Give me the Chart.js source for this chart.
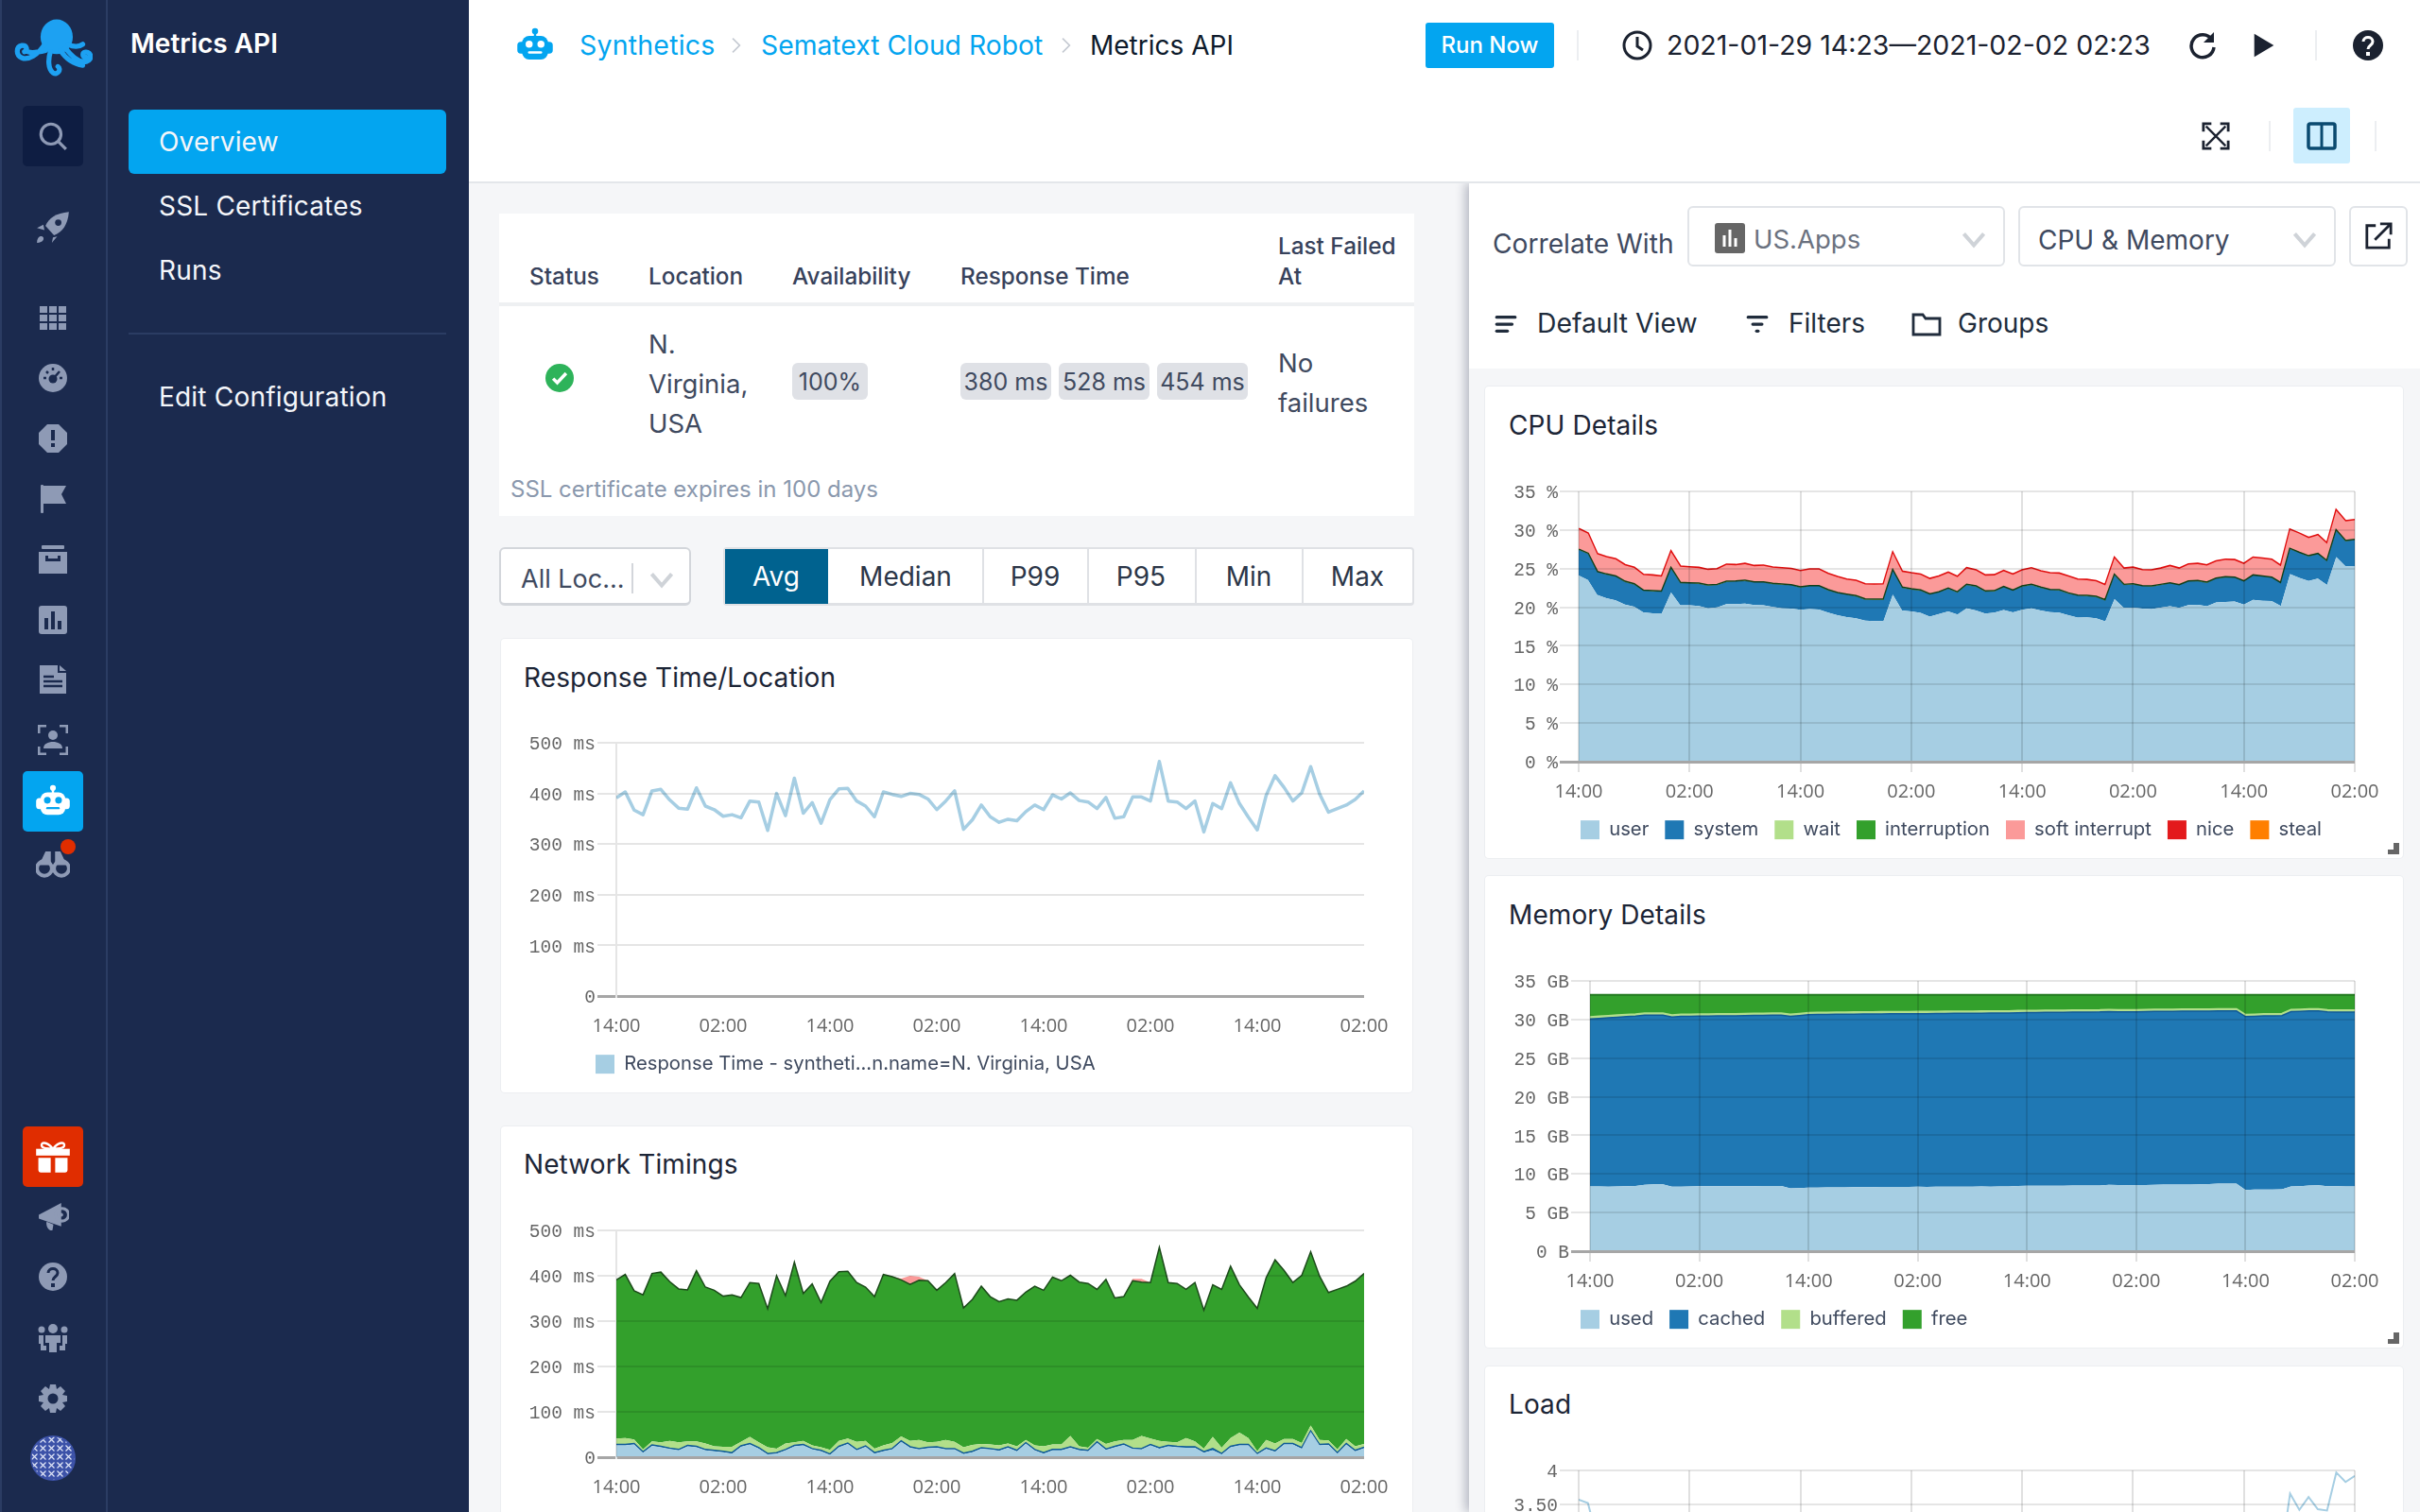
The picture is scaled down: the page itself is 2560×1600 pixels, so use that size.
<!DOCTYPE html>
<html>
<head>
<meta charset="utf-8">
<title>Metrics API</title>
<script src="https://cdn.jsdelivr.net/npm/chart.js@4/dist/chart.umd.min.js"></script>
<style>
  html, body { margin: 0; width: 2560px; height: 1600px; overflow: hidden; background: #f5f6f8; font-family: Inter, sans-serif; }
  #ui { position: absolute; left: 0; top: 0; width: 2560px; height: 1600px; overflow: hidden; }
  #ui div, #ui svg, #ui canvas { position: absolute; }
  .t { white-space: nowrap; transform: translateY(-50%); line-height: 1; }
</style>
</head>
<body>
<div id="ui"></div>
<script>
// ---- Data ----
const xTickLabels = ["14:00", "02:00", "14:00", "02:00", "14:00", "02:00", "14:00", "02:00"];
const responseTicks = ["0", "100 ms", "200 ms", "300 ms", "400 ms", "500 ms"];
const cpuTicks = ["0 %", "5 %", "10 %", "15 %", "20 %", "25 %", "30 %", "35 %"];
const memoryTicks = ["0 B", "5 GB", "10 GB", "15 GB", "20 GB", "25 GB", "30 GB", "35 GB"];
const loadTicks = ["0", "0.50", "1", "1.50", "2", "2.50", "3", "3.50", "4"];

const responseTime = [
  391,403,367,358,405,408,387,371,369,411,375,368,355,358,352,385,383,327,400,356,
  430,361,382,341,388,409,410,385,375,354,403,398,394,400,398,389,368,385,405,329,
  348,377,354,343,349,346,364,377,368,397,389,401,386,383,370,392,351,354,393,393,
  385,463,385,383,370,385,324,380,370,421,380,353,328,396,435,412,385,401,453,399,
  363,370,377,388,405
];

const netDns = [
  26,26,28,10,25,22,18,15,24,22,15,13,11,8,23,28,19,6,8,15,
  24,26,17,13,5,22,29,15,23,8,13,17,34,21,17,20,21,17,17,7,
  11,19,17,14,21,13,30,15,8,15,15,21,15,13,32,16,22,27,18,17,
  26,19,24,22,21,21,10,15,6,22,26,26,6,18,12,28,28,19,56,26,
  27,8,28,13,20
];
const netConnect = [
  2,2,2,2,2,2,2,2,2,2,2,2,2,2,2,2,2,2,2,2,
  2,2,2,2,2,2,2,2,2,2,2,2,2,2,2,2,2,2,2,2,
  2,2,2,2,2,2,2,2,2,2,2,2,2,2,2,2,2,2,2,2,
  2,2,2,2,2,2,2,4,2,2,2,2,2,2,2,2,2,2,2,2,
  2,2,2,2,2
];
const netTls = [
  13,14,9,5,8,9,16,16,9,11,13,9,10,13,9,15,12,14,9,13,
  7,8,7,7,9,12,10,17,11,9,11,12,10,13,19,11,11,19,15,13,
  14,8,9,10,7,9,6,9,14,11,11,24,7,6,6,11,11,9,18,28,
  13,15,8,9,19,12,7,26,13,18,26,14,5,18,16,10,10,10,12,10,
  8,7,10,9,7
];
const netWait = [
  350,361,328,341,370,375,351,338,334,376,345,344,332,335,318,340,350,305,381,326,
  397,325,356,319,372,373,369,351,339,335,377,367,345,345,352,356,334,347,371,307,
  321,348,326,317,319,322,326,351,344,369,361,354,362,362,330,363,316,316,351,339,
  344,427,351,350,328,350,305,335,349,379,326,311,315,358,405,372,345,370,383,361,
  326,353,337,364,376
];
const netDownload = [
  0,0,0,0,0,0,0,0,0,0,0,0,0,0,0,0,0,0,0,0,
  0,0,0,0,0,0,0,0,0,0,0,0,3,19,8,0,0,0,0,0,
  0,0,0,0,0,0,0,0,0,0,0,0,0,0,0,0,0,0,4,7,
  0,0,0,0,0,0,0,0,0,0,0,0,0,0,0,0,0,0,0,0,
  0,0,0,0,0
];

const cpuUser = [
  24.11,23.54,21.59,21.18,20.89,20.36,20.07,19.34,19.22,19.22,21.91,20.24,20.24,20.16,19.87,19.99,20.40,20.40,20.48,20.28,
  20.24,20.04,19.87,19.83,19.67,19.75,19.71,19.30,18.98,18.73,18.57,18.28,18.20,18.24,21.62,19.59,19.46,19.26,18.80,19.13,
  19.46,19.06,19.87,19.59,19.18,19.30,19.63,19.34,19.67,19.87,19.59,19.38,19.30,18.98,18.65,18.69,18.57,18.16,21.06,19.91,
  19.95,19.83,19.75,19.95,20.12,19.91,20.28,20.32,20.12,20.61,20.69,20.73,20.36,20.97,20.85,20.81,20.16,24.28,23.79,23.42,
  23.71,22.89,26.48,25.30,25.34
];
const cpuSystem = [
  3.30,3.35,2.94,3.02,3.06,2.90,2.86,2.77,2.82,2.77,3.06,2.86,2.82,2.86,2.90,2.86,2.86,2.90,2.90,2.90,
  2.94,2.94,3.02,2.98,2.86,2.94,2.98,2.86,2.82,2.86,2.82,2.69,2.73,2.69,3.06,2.90,2.82,2.86,2.82,2.77,
  2.90,2.82,2.98,3.06,2.82,2.73,2.94,2.77,2.98,2.98,2.90,2.82,2.86,2.77,2.82,2.73,2.73,2.69,3.06,2.94,
  2.98,2.86,2.90,2.90,2.94,2.90,3.02,3.02,3.02,3.06,3.14,3.06,2.94,3.10,3.10,2.98,2.90,3.22,3.22,3.14,
  3.14,3.02,3.39,3.22,3.35
];
const cpuWait = [
  0.02,0.02,0.02,0.02,0.02,0.02,0.02,0.02,0.02,0.02,0.02,0.02,0.02,0.02,0.02,0.02,0.02,0.02,0.02,0.02,
  0.02,0.02,0.02,0.02,0.02,0.02,0.02,0.02,0.02,0.02,0.02,0.02,0.02,0.02,0.02,0.02,0.02,0.02,0.02,0.02,
  0.02,0.02,0.02,0.02,0.02,0.02,0.02,0.02,0.02,0.02,0.02,0.02,0.02,0.02,0.02,0.02,0.02,0.02,0.02,0.02,
  0.02,0.02,0.02,0.02,0.02,0.02,0.02,0.02,0.02,0.02,0.02,0.02,0.02,0.02,0.02,0.02,0.02,0.02,0.02,0.02,
  0.02,0.02,0.02,0.02,0.02
];
const cpuInterruption = [
  0.03,0.03,0.03,0.03,0.03,0.03,0.03,0.03,0.03,0.03,0.03,0.03,0.03,0.03,0.03,0.03,0.03,0.03,0.03,0.03,
  0.03,0.03,0.03,0.03,0.03,0.03,0.03,0.03,0.03,0.03,0.03,0.03,0.03,0.03,0.03,0.03,0.03,0.03,0.03,0.03,
  0.03,0.03,0.03,0.03,0.03,0.03,0.03,0.03,0.03,0.03,0.03,0.03,0.03,0.03,0.03,0.03,0.03,0.03,0.03,0.03,
  0.03,0.03,0.03,0.03,0.03,0.03,0.03,0.03,0.03,0.03,0.03,0.03,0.03,0.03,0.03,0.03,0.03,0.03,0.03,0.03,
  0.03,0.03,0.03,0.03,0.03
];
const cpuSoftInterrupt = [
  2.65,2.57,2.28,2.20,2.20,2.12,2.12,2.00,2.00,1.92,2.12,2.08,2.04,2.00,2.00,2.00,2.16,2.08,2.16,2.08,
  2.12,2.08,2.08,2.08,2.08,2.12,2.12,2.08,2.04,1.92,1.96,1.92,1.92,1.96,2.24,2.04,2.04,2.04,1.96,2.00,
  2.04,1.96,2.12,2.04,2.04,2.04,2.04,2.04,2.04,2.12,2.08,2.12,2.12,2.16,2.04,2.04,2.00,1.92,2.16,2.08,
  2.12,2.04,2.04,2.08,2.20,2.12,2.16,2.20,2.20,2.20,2.24,2.24,2.24,2.28,2.28,2.28,2.20,2.45,2.45,2.33,
  2.41,2.24,2.57,2.53,2.53
];
const cpuNice = [
  0.04,0.04,0.04,0.04,0.04,0.04,0.04,0.04,0.04,0.04,0.04,0.04,0.04,0.04,0.04,0.04,0.04,0.04,0.04,0.04,
  0.04,0.04,0.04,0.04,0.04,0.04,0.04,0.04,0.04,0.04,0.04,0.04,0.04,0.04,0.04,0.04,0.04,0.04,0.04,0.04,
  0.04,0.04,0.04,0.04,0.04,0.04,0.04,0.04,0.04,0.04,0.04,0.04,0.04,0.04,0.04,0.04,0.04,0.04,0.04,0.04,
  0.04,0.04,0.04,0.04,0.04,0.04,0.04,0.04,0.04,0.04,0.04,0.04,0.04,0.04,0.04,0.04,0.04,0.04,0.04,0.04,
  0.04,0.04,0.04,0.04,0.04
];
const cpuSteal = [
  0,0,0,0,0,0,0,0,0,0,0,0,0,0,0,0,0,0,0,0,
  0,0,0,0,0,0,0,0,0,0,0,0,0,0,0,0,0,0,0,0,
  0,0,0,0,0,0,0,0,0,0,0,0,0,0,0,0,0,0,0,0,
  0,0,0,0,0,0,0,0,0,0,0,0,0,0,0,0,0,0,0,0,
  0,0,0,0,0
];

const memUsed = [
  8.38,8.37,8.36,8.39,8.42,8.45,8.60,8.66,8.66,8.34,8.36,8.39,8.40,8.41,8.40,8.42,8.41,8.40,8.42,8.43,
  8.43,8.44,8.15,8.17,8.22,8.24,8.25,8.27,8.27,8.28,8.29,8.30,8.31,8.31,8.33,8.33,8.34,8.33,8.35,8.34,
  8.36,8.35,8.36,8.37,8.36,8.38,8.39,8.44,8.46,8.47,8.48,8.48,8.47,8.49,8.50,8.50,8.52,8.60,8.56,8.55,
  8.57,8.58,8.60,8.62,8.63,8.62,8.64,8.66,8.70,8.74,8.76,8.76,7.92,7.98,8.00,8.00,8.01,8.37,8.40,8.52,
  8.53,8.42,8.40,8.39,8.39
];
const memCached = [
  21.70,21.78,21.86,21.91,21.96,22.00,21.95,21.89,21.89,21.98,22.04,22.03,22.04,22.04,22.06,22.05,22.07,22.10,22.10,22.11,
  22.12,22.11,22.25,22.33,22.40,22.41,22.41,22.41,22.42,22.42,22.42,22.42,22.42,22.43,22.41,22.42,22.42,22.43,22.43,22.45,
  22.44,22.45,22.45,22.45,22.47,22.45,22.45,22.44,22.44,22.43,22.44,22.45,22.47,22.46,22.46,22.47,22.46,22.42,22.44,22.45,
  22.43,22.45,22.44,22.43,22.43,22.45,22.44,22.42,22.38,22.36,22.36,22.34,22.45,22.44,22.46,22.48,22.49,22.65,22.65,22.58,
  22.57,22.58,22.57,22.58,22.58
];
const memBuffered = [
  0.25,0.25,0.25,0.25,0.25,0.25,0.25,0.25,0.25,0.25,0.25,0.25,0.25,0.25,0.25,0.25,0.25,0.25,0.25,0.25,
  0.25,0.25,0.25,0.25,0.25,0.25,0.25,0.25,0.25,0.25,0.25,0.25,0.25,0.25,0.25,0.25,0.25,0.25,0.25,0.25,
  0.25,0.25,0.25,0.25,0.25,0.25,0.25,0.25,0.25,0.25,0.25,0.25,0.25,0.25,0.25,0.25,0.25,0.25,0.25,0.25,
  0.25,0.25,0.25,0.25,0.25,0.25,0.25,0.25,0.25,0.25,0.25,0.25,0.25,0.25,0.25,0.25,0.25,0.25,0.25,0.25,
  0.25,0.25,0.25,0.25,0.25
];
const memFree = [
  2.87,2.80,2.73,2.65,2.57,2.50,2.40,2.40,2.40,2.63,2.55,2.53,2.51,2.50,2.49,2.48,2.47,2.45,2.43,2.41,
  2.40,2.40,2.55,2.45,2.33,2.30,2.29,2.27,2.26,2.25,2.24,2.23,2.22,2.21,2.21,2.20,2.19,2.19,2.17,2.16,
  2.15,2.15,2.14,2.13,2.12,2.12,2.11,2.07,2.05,2.05,2.03,2.02,2.01,2.00,1.99,1.98,1.97,1.93,1.95,1.95,
  1.95,1.92,1.91,1.90,1.89,1.88,1.87,1.87,1.87,1.85,1.83,1.85,2.58,2.53,2.49,2.47,2.45,1.93,1.90,1.85,
  1.85,1.95,1.98,1.98,1.98
];

const loadOne = [
  3.57,3.52,3.00,2.88,2.82,2.74,2.70,2.60,2.58,2.58,2.95,2.72,2.72,2.70,2.68,2.70,2.75,2.75,2.76,2.74,
  2.73,2.70,2.68,2.68,2.65,2.66,2.66,2.60,2.56,2.53,2.50,2.46,2.45,2.46,2.90,2.64,2.62,2.60,2.54,2.58,
  2.62,2.57,2.68,2.64,2.58,2.60,2.65,2.61,2.65,2.68,2.64,2.61,2.60,2.56,2.52,2.52,2.50,2.45,2.84,2.68,
  2.69,2.67,2.66,2.69,2.71,2.68,2.73,2.74,2.71,2.78,2.79,2.80,2.74,2.83,2.81,2.80,2.72,3.66,3.42,3.61,
  3.43,3.41,3.97,3.83,3.92
];

const ui = document.getElementById("ui");

// ---- Page furniture helpers ----
const box = (l, t, r, b, css = "") => {
  const d = document.createElement("div");
  d.style.cssText = `left:${l}px;top:${t}px;width:${r - l}px;height:${b - t}px;${css}`;
  ui.appendChild(d);
  return d;
};

const text = (x, y, str, css = "") => {
  const d = document.createElement("div");
  d.className = "t";
  d.textContent = str;
  d.style.cssText = `left:${x}px;top:${y}px;${css}`;
  ui.appendChild(d);
  return d;
};

const centered = (cx, y, str, css = "") => {
  const d = text(cx, y, str, css);
  d.style.transform = "translate(-50%,-50%)";
  return d;
};

const icon = (cx, cy, size, color, inner) => {
  const w = document.createElement("div");
  w.style.cssText = `left:${cx - size / 2}px;top:${cy - size / 2}px;width:${size}px;height:${size}px;color:${color}`;
  w.innerHTML = `<svg viewBox="0 0 32 32" width="${size}" height="${size}" fill="currentColor">${inner}</svg>`;
  ui.appendChild(w);
};

const robot = (eye) => `<circle cx="16" cy="4" r="2.6"/><rect x="15" y="5" width="2" height="4"/><rect x="5" y="8" width="22" height="20" rx="6"/><rect x="1" y="13" width="30" height="10" rx="3"/><circle cx="11" cy="15" r="3" fill="${eye}"/><circle cx="21" cy="15" r="3" fill="${eye}"/><rect x="10" y="21" width="12" height="2" rx="1" fill="${eye}"/>`;
const chevron = `<path d="M3 9l13 15L29 9" fill="none" stroke="currentColor" stroke-width="5"/>`;

const NAVY = "#1b2a4e";
const RAIL = "#8e9ab5";
const BLUE = "#03a5f0";

// ---- Sidebars ----
box(0, 0, 496, 1600, `background:${NAVY}`);
box(0, 0, 2, 1600, "background:#2b3c63");
box(112, 0, 114, 1600, "background:#2b3c63");

icon(56, 56, 84, "#1da1f2", `<ellipse cx="17.500" cy="9.500" rx="6.500" ry="7"/><path d="M13 12C10 17 6 19 3.500 18 1 17 1 13.500 3.500 13 5.500 12.800 6 15 4.500 15.500M22 12.500c2 1 4 1.500 6 0M13 15c-4 1-7 1-8 0M21 14c3 4 6 6 8.500 5.500 2.500-.7 2-4-.3-3.800-1.500.2-1.500 2 0 2M15 15.500c-1 3-1 7 1 8.500 2 1.200 3.500-1.500 2-2.500M19 15c2 3 5 5.500 9 6" fill="none" stroke="currentColor" stroke-width="2" stroke-linecap="round"/>`);
box(24, 112, 88, 176, "background:#0e1d42;border-radius:5px");
icon(56, 144, 34, RAIL, `<circle cx="14" cy="14" r="10" fill="none" stroke="currentColor" stroke-width="3"/><path d="M21 21l8 8" stroke="currentColor" stroke-width="3"/>`);
icon(56, 240, 36, RAIL, `<path d="M31 2C19 3 12 8 9 15l8 9c8-3 13-10 14-22z"/><path d="M7 14l-6 3 7 2zM16 26l-1 5 5-6zM1 31c0-4 2-7 5-6l1 1c1 3-2 5-6 5z"/><circle cx="21" cy="12" r="3" fill="${NAVY}"/>`);
icon(56, 336, 32, RAIL, `<path d="M2 4h8v7H2zM12 4h8v7h-8zM22 4h8v7h-8zM2 13h8v7H2zM12 13h8v7h-8zM22 13h8v7h-8zM2 22h8v7H2zM12 22h8v7h-8zM22 22h8v7h-8z"/>`);
icon(56, 400, 32, RAIL, `<circle cx="16" cy="16" r="15"/><circle cx="16" cy="17" r="4.5" fill="${NAVY}"/><path d="M17 16l6-7M6 16h3M23 16h3M16 5v3M9 9l2 2" stroke="${NAVY}" stroke-width="2.5"/>`);
icon(56, 464, 32, RAIL, `<path d="M10 1h12l9 9v12l-9 9H10l-9-9V10z"/><rect x="14" y="7" width="4" height="11" fill="${NAVY}"/><rect x="14" y="21" width="4" height="4" fill="${NAVY}"/>`);
icon(56, 528, 32, RAIL, `<rect x="3" y="1" width="3" height="30" rx="1"/><path d="M6 2h24l-5 9 5 10H6z"/>`);
icon(56, 592, 32, RAIL, `<rect x="4" y="1" width="24" height="4" rx="1"/><path d="M1 8h30v23H1z"/><rect x="8" y="12" width="16" height="6" fill="${NAVY}"/><rect x="11" y="10" width="10" height="5" fill="${RAIL}"/>`);
icon(56, 656, 32, RAIL, `<rect x="1" y="1" width="30" height="30" rx="3"/><rect x="7" y="14" width="4" height="12" fill="${NAVY}"/><rect x="14" y="7" width="4" height="19" fill="${NAVY}"/><rect x="21" y="17" width="4" height="9" fill="${NAVY}"/>`);
icon(56, 719, 32, RAIL, `<path d="M2 1h19v8h9v22H2z"/><path d="M23 1l7 6h-7z"/><path d="M6 13h11M6 18h20M6 23h20" stroke="${NAVY}" stroke-width="2.4"/>`);
icon(56, 783, 32, RAIL, `<path d="M1 9V1h8M23 1h8v8M1 23v8h8M23 31h8v-8" fill="none" stroke="currentColor" stroke-width="3"/><circle cx="16" cy="11" r="5"/><path d="M6 25c0-5 5-7 10-7s10 2 10 7z"/>`);
box(24, 816, 88, 880, `background:${BLUE};border-radius:5px`);
icon(56, 848, 38, "#fff", robot(BLUE));
icon(56, 911, 36, RAIL, `<circle cx="8" cy="23" r="7" fill="none" stroke="currentColor" stroke-width="3.5"/><circle cx="24" cy="23" r="7" fill="none" stroke="currentColor" stroke-width="3.5"/><path d="M3 20L9 7h5v13zM29 20L23 7h-5v13z"/>`);
box(64, 888, 80, 904, "background:#e02d00;border-radius:50%");
box(24, 1192, 88, 1256, "background:#e02d00;border-radius:5px");
icon(56, 1224, 38, "#fff", `<rect x="1" y="9" width="30" height="6"/><path d="M3 17h11v13H5a2 2 0 0 1-2-2zM18 17h11v11a2 2 0 0 1-2 2h-9z"/><path d="M16 9C10 2 5 3 6 6.500 7 9 13 9 16 9c3 0 9 0 10-2.500C27 3 22 2 16 9z" fill="none" stroke="currentColor" stroke-width="2"/>`);
icon(56, 1287, 33, RAIL, `<path d="M1 14L24 2v24L1 18z"/><circle cx="25" cy="14" r="6.500" fill="none" stroke="currentColor" stroke-width="3"/><circle cx="24" cy="14" r="2"/><path d="M9 21l7 3-1 6c-4 1-7-5-6-9z"/>`);
icon(56, 1351, 32, RAIL, `<circle cx="16" cy="16" r="15"/><path d="M11 12c0-6 10-6 10 0 0 4-5 4-5 8" fill="none" stroke="${NAVY}" stroke-width="3"/><rect x="14" y="23" width="4" height="4" fill="${NAVY}"/>`);
icon(56, 1416, 32, RAIL, `<circle cx="16" cy="6" r="5"/><circle cx="4" cy="7" r="3.500"/><circle cx="28" cy="7" r="3.500"/><path d="M8 13h16v8h-4v10h-8V21H8zM1 13h5v11h3v5H3v-7H1zM26 13h5v9h-2v7h-6v-5h3z"/>`);
icon(56, 1480, 32, RAIL, `<path d="M13 1h6l1 5 4-3 5 5-3 4 5 1v6l-5 1 3 4-5 5-4-3-1 5h-6l-1-5-4 3-5-5 3-4-5-1v-6l5-1-3-4 5-5 4 3z"/><circle cx="16" cy="16" r="5.500" fill="${NAVY}"/>`);
icon(56, 1543, 48, "#3c52a8", `<defs><pattern id="av" width="6" height="6" patternUnits="userSpaceOnUse"><path d="M1 1l4 4M5 1L1 5" stroke="#dfe5f7" stroke-width=".8"/></pattern></defs><circle cx="16" cy="16" r="16"/><circle cx="16" cy="16" r="15" fill="url(#av)"/>`);

text(138, 46, "Metrics API", "font-size:28px;font-weight:600;color:#fff");
box(136, 116, 472, 184, `background:${BLUE};border-radius:6px`);
[["Overview", 150], ["SSL Certificates", 218], ["Runs", 286], ["Edit Configuration", 420]].forEach(([label, y]) => {
  text(168, y, label, "font-size:28px;color:#f4f6fa;letter-spacing:.2px");
});
box(136, 352, 472, 354, "background:#2b3c63");

// ---- Header ----
box(496, 0, 2560, 192, "background:#fff");
box(496, 192, 2560, 194, "background:#e3e6ea");
icon(566, 48, 40, BLUE, robot("#fff"));
text(613, 48, "Synthetics", `font-size:28.5px;color:${BLUE};letter-spacing:.2px`);
icon(779, 48, 18, "#c5cad2", `<path d="M9 3l13 13L9 29" fill="none" stroke="currentColor" stroke-width="3"/>`);
text(805, 48, "Sematext Cloud Robot", `font-size:28.3px;color:${BLUE}`);
icon(1128, 48, 18, "#c5cad2", `<path d="M9 3l13 13L9 29" fill="none" stroke="currentColor" stroke-width="3"/>`);
text(1153, 48, "Metrics API", "font-size:28px;color:#0d1a2b");

box(1508, 24, 1644, 72, `background:${BLUE};border-radius:3px`);
centered(1576, 48, "Run Now", "font-size:24px;font-weight:500;color:#fff");
box(1668, 32, 1670, 64, "background:#eceef1");
icon(1732, 48, 32, "#1b2230", `<circle cx="16" cy="16" r="14" fill="none" stroke="currentColor" stroke-width="3"/><path d="M16 7v10l6 4" fill="none" stroke="currentColor" stroke-width="3"/>`);
text(1763, 48, "2021-01-29 14:23—2021-02-02 02:23", "font-size:28.5px;color:#1b2230");
icon(2330, 48, 32, "#1b2230", `<path d="M26 10A12 12 0 1 0 28 18" fill="none" stroke="currentColor" stroke-width="3.500"/><path d="M28 2v11H17z"/>`);
icon(2395, 48, 30, "#1b2230", `<path d="M5 3l22 13L5 29z"/>`);
box(2449, 32, 2451, 64, "background:#eceef1");
icon(2505, 48, 32, "#1b2230", `<circle cx="16" cy="16" r="16"/><path d="M11 12c0-6 10-6 10 0 0 4-5 4-5 8" fill="none" stroke="#fff" stroke-width="3"/><rect x="14" y="23" width="4" height="4" fill="#fff"/>`);

icon(2344, 144, 30, "#1b2230", `<path d="M5 5l22 22M27 5L5 27" stroke="currentColor" stroke-width="2.500"/><path d="M2 11V2h9M21 2h9v9M2 21v9h9M21 30h9v-9" fill="none" stroke="currentColor" stroke-width="3"/>`);
box(2400, 128, 2402, 160, "background:#eceef1");
box(2426, 114, 2486, 173, "background:#cdeefe;border-radius:3px");
icon(2456, 144, 32, "#0a4a70", `<rect x="2" y="3" width="28" height="26" rx="2" fill="none" stroke="currentColor" stroke-width="3.500"/><rect x="14.500" y="3" width="3" height="26"/>`);
box(2512, 128, 2514, 160, "background:#eceef1");

// ---- Status table ----
box(528, 226, 1496, 546, "background:#fff");
box(528, 320, 1496, 324, "background:#eef0f2");
const thCss = "font-size:24.3px;font-weight:500;color:#37425b";
text(560, 292, "Status", thCss);
text(686, 292, "Location", thCss);
text(838, 292, "Availability", thCss);
text(1016, 292, "Response Time", thCss);
text(1352, 260, "Last Failed", thCss);
text(1352, 292, "At", thCss);
box(577, 385, 607, 415, "background:#2eb35a;border-radius:50%");
icon(592, 400, 20, "#fff", `<path d="M5 17l7 7L27 8" fill="none" stroke="currentColor" stroke-width="5.500"/>`);
const tdCss = "font-size:27.5px;color:#3f4a5f";
text(686, 365, "N.", tdCss);
text(686, 407, "Virginia,", tdCss);
text(686, 449, "USA", tdCss);
text(1352, 385, "No", tdCss);
text(1352, 427, "failures", tdCss);
[[838, 918, "100%"], [1016, 1112, "380 ms"], [1120, 1216, "528 ms"], [1224, 1320, "454 ms"]].forEach(([l, r, label]) => {
  box(l, 384, r, 423, "background:#dfe1e6;border-radius:6px");
  centered((l + r) / 2, 404, label, "font-size:25px;color:#3f4a5f");
});
text(540, 518, "SSL certificate expires in 100 days", "font-size:24px;color:#8a98ad");

box(528, 579, 731, 641, "background:#fff;border:2px solid #d3d6db;border-bottom-width:3px;border-radius:6px;box-sizing:border-box");
text(551, 612, "All Loc...", "font-size:27px;color:#3f4a5f");
box(668, 596, 670, 628, "background:#d3d6db");
icon(700, 613, 26, "#cfd3d8", chevron);
box(765, 579, 1496, 641, "background:#fff;border:2px solid #dfe1e5;border-bottom-width:3px;border-radius:4px;box-sizing:border-box");
box(767, 581, 876, 639, "background:#00628f");
[[821, "Avg"], [958, "Median"], [1095, "P99"], [1207, "P95"], [1321, "Min"], [1436, "Max"]].forEach(([cx, label], i) => {
  centered(cx, 610, label, `font-size:28px;color:${i ? "#2b3648" : "#fff"}`);
});
[1039, 1150, 1264, 1377].forEach(x => box(x, 581, x + 2, 639, "background:#dfe1e5"));

// ---- Chart cards on the left ----
const cardCss = "background:#fff;border-radius:4px;box-shadow:0 0 0 1px #eceef1";
const titleCss = "font-size:28px;color:#1c2536;letter-spacing:.1px";
box(530, 676, 1494, 1156, cardCss);
text(554, 717, "Response Time/Location", titleCss);
box(530, 1192, 1494, 1700, cardCss);
text(554, 1232, "Network Timings", titleCss);

// ---- Right panel ----
box(1554, 194, 2560, 1600, "background:#f5f6f8;box-shadow:-4px 0 10px rgba(20,30,60,.28);clip-path:inset(0 0 0 -20px)");
box(1554, 194, 2560, 390, "background:#fff");
text(1579, 258, "Correlate With", "font-size:28.2px;color:#3f4a60");
const selectCss = "background:#fff;border:2px solid #e1e4e8;border-radius:6px;box-sizing:border-box";
box(1785, 218, 2121, 282, selectCss);
box(1814, 236, 1846, 268, "background:#666;border-radius:3px");
icon(1830, 252, 24, "#fff", `<path d="M6 12h4v16H6zM14 4h4v24h-4zM22 16h4v12h-4z"/>`);
text(1855, 254, "US.Apps", "font-size:27.5px;color:#6b7280");
icon(2088, 253, 26, "#cfd3d8", chevron);
box(2135, 218, 2471, 282, selectCss);
text(2156, 254, "CPU & Memory", "font-size:28px;color:#3f4a5f");
icon(2438, 253, 26, "#cfd3d8", chevron);
box(2485, 218, 2547, 282, selectCss);
icon(2516, 250, 30, "#1b2230", `<path d="M13 4H3v25h25V19" fill="none" stroke="currentColor" stroke-width="3"/><path d="M12 20L29 3M18 2h12v12" fill="none" stroke="currentColor" stroke-width="3"/>`);
icon(1593, 343, 26, "#202c3c", `<rect x="2" y="5" width="28" height="4" rx="2"/><rect x="2" y="14" width="24" height="4" rx="2"/><rect x="2" y="23" width="18" height="4" rx="2"/>`);
text(1626, 342, "Default View", "font-size:28.3px;color:#202c3c");
icon(1859, 343, 26, "#202c3c", `<rect x="2" y="5" width="28" height="4" rx="2"/><rect x="8" y="14" width="16" height="4" rx="2"/><rect x="13" y="23" width="6" height="4" rx="2"/>`);
text(1892, 342, "Filters", "font-size:28px;color:#202c3c");
icon(2038, 343, 32, "#202c3c", `<path d="M2 6h10l3 4h15v17H2z" fill="none" stroke="currentColor" stroke-width="2.800"/>`);
text(2071, 342, "Groups", "font-size:28px;color:#202c3c");

box(1571, 409, 2542, 908, cardCss);
text(1596, 450, "CPU Details", titleCss);
box(1571, 927, 2542, 1426, cardCss);
text(1596, 968, "Memory Details", titleCss);
box(1571, 1446, 2542, 1700, cardCss);
text(1596, 1486, "Load", titleCss);
[[2526, 892], [2526, 1410]].forEach(([x, y]) => {
  box(x + 6, y, x + 12, y + 12, "background:#666");
  box(x, y + 7, x + 12, y + 12, "background:#666");
});

// ---- Charts ----
const toPoints = (values) => values.map((y, x) => ({ x, y }));

const area = (label, values, color, fill, line = null, lineWidth = 0) => ({
  label,
  data: toPoints(values),
  backgroundColor: color,
  borderColor: line || color,
  borderWidth: lineWidth,
  fill,
  pointRadius: 0,
  tension: 0
});

const TOP_GAP = 14;
const AXIS_HEIGHT = 45;
const LEGEND_HEIGHT = 46;
const LEGEND_PAD = 17;

const drawChart = ({ id, left, plotLeft, plotRight, plotTop, plotBottom, max, step, yLabels, datasets, verticalGrid, legendX }) => {
  const canvas = document.createElement("canvas");
  const hasLegend = legendX !== undefined;
  const rightGap = 50;
  canvas.id = id;
  canvas.width = plotRight - left + rightGap;
  canvas.height = TOP_GAP + (plotBottom - plotTop) + AXIS_HEIGHT + (hasLegend ? LEGEND_HEIGHT : 0);
  canvas.style.left = left + "px";
  canvas.style.top = plotTop - TOP_GAP + "px";
  ui.appendChild(canvas);

  return new Chart(canvas, {
    type: "line",
    data: { datasets },
    options: {
      responsive: false,
      animation: false,
      events: [],
      layout: { padding: { top: TOP_GAP, right: rightGap, left: 0, bottom: 0 } },
      plugins: {
        tooltip: { enabled: false },
        legend: {
          display: hasLegend,
          position: "bottom",
          align: "start",
          maxHeight: LEGEND_HEIGHT,
          labels: {
            boxWidth: 20,
            boxHeight: 20,
            padding: LEGEND_PAD,
            color: "#3f4a5f",
            font: { family: "Inter", size: 20.3 },
            generateLabels: (chart) => Chart.defaults.plugins.legend.labels.generateLabels(chart)
              .map(item => ({ ...item, lineWidth: 0 }))
          }
        }
      },
      scales: {
        x: {
          type: "linear",
          min: 0,
          max: 84,
          afterFit: (scale) => { scale.height = AXIS_HEIGHT; },
          border: { display: false },
          grid: {
            display: verticalGrid,
            color: "rgba(0,0,0,0.12)",
            lineWidth: 2,
            tickLength: 11,
            z: 1
          },
          ticks: {
            stepSize: 12,
            autoSkip: false,
            maxRotation: 0,
            padding: 9,
            color: "#666",
            font: { family: "'Open Sans'", size: 20 },
            callback: (value) => xTickLabels[value / 12]
          }
        },
        y: {
          stacked: true,
          min: 0,
          max,
          afterFit: (scale) => { scale.width = plotLeft - left; },
          border: { display: !verticalGrid, color: "rgba(0,0,0,0.1)", width: 2, z: 1 },
          grid: {
            color: (ctx) => ctx.tick.value === 0 ? "#a6a6a6" : "rgba(0,0,0,0.1)",
            lineWidth: (ctx) => ctx.tick.value === 0 ? 3 : 2,
            tickLength: 20,
            z: 1
          },
          ticks: {
            stepSize: step,
            padding: 2,
            labelOffset: 2,
            color: "#666",
            font: { family: "'Liberation Mono'", size: 19.5 },
            callback: (value) => yLabels[Math.round(value / step)]
          }
        }
      }
    },
    plugins: hasLegend ? [{
      id: "legendStart",
      afterLayout: (chart) => { chart.legend.left = legendX - left - LEGEND_PAD; }
    }] : []
  });
};

drawChart({
  id: "responseChart", left: 530, plotLeft: 652, plotRight: 1443, plotTop: 786, plotBottom: 1054,
  max: 500, step: 100, yLabels: responseTicks, verticalGrid: false, legendX: 630,
  datasets: [{
    label: "Response Time - syntheti...n.name=N. Virginia, USA",
    data: toPoints(responseTime),
    backgroundColor: "#a6cee3",
    borderColor: "#a6cee3",
    borderWidth: 3.5,
    borderJoinStyle: "round",
    fill: false,
    pointRadius: 0,
    tension: 0
  }]
});

drawChart({
  id: "networkChart", left: 530, plotLeft: 652, plotRight: 1443, plotTop: 1302, plotBottom: 1542,
  max: 500, step: 100, yLabels: responseTicks, verticalGrid: false,
  datasets: [
    area("DNS", netDns, "#a6cee3", "origin"),
    area("Connect", netConnect, "#1f78b4", "-1", "#0f5a96", 1.5),
    area("TLS", netTls, "#b2df8a", "-1"),
    area("Wait", netWait, "#33a02c", "-1", "#1c4a1a", 1.5),
    area("Download", netDownload, "#fb9a99", "-1")
  ]
});

drawChart({
  id: "cpuChart", left: 1571, plotLeft: 1670, plotRight: 2491, plotTop: 520, plotBottom: 806,
  max: 35, step: 5, yLabels: cpuTicks, verticalGrid: true, legendX: 1672,
  datasets: [
    area("user", cpuUser, "#a6cee3", "origin"),
    area("system", cpuSystem, "#1f78b4", "-1"),
    area("wait", cpuWait, "#b2df8a", "-1"),
    area("interruption", cpuInterruption, "#33a02c", "-1", "#123f18", 2.5),
    area("soft interrupt", cpuSoftInterrupt, "#fb9a99", "-1"),
    area("nice", cpuNice, "#e31a1c", "-1", "#e00d0d", 2.5),
    area("steal", cpuSteal, "#ff7f00", "-1")
  ]
});

drawChart({
  id: "memoryChart", left: 1571, plotLeft: 1682, plotRight: 2491, plotTop: 1038, plotBottom: 1324,
  max: 35, step: 5, yLabels: memoryTicks, verticalGrid: true, legendX: 1672,
  datasets: [
    area("used", memUsed, "#a6cee3", "origin"),
    area("cached", memCached, "#1f78b4", "-1", "#115a96", 1.5),
    area("buffered", memBuffered, "#b2df8a", "-1", "#b2df8a", 2),
    area("free", memFree, "#33a02c", "-1", "#237a20", 2)
  ]
});

drawChart({
  id: "loadChart", left: 1571, plotLeft: 1670, plotRight: 2491, plotTop: 1556, plotBottom: 1844,
  max: 4, step: 0.5, yLabels: loadTicks, verticalGrid: true,
  datasets: [{
    label: "load",
    data: toPoints(loadOne),
    borderColor: "#a6cee3",
    backgroundColor: "#a6cee3",
    borderWidth: 2,
    fill: false,
    pointRadius: 0,
    tension: 0
  }]
});
</script>
</body>
</html>
